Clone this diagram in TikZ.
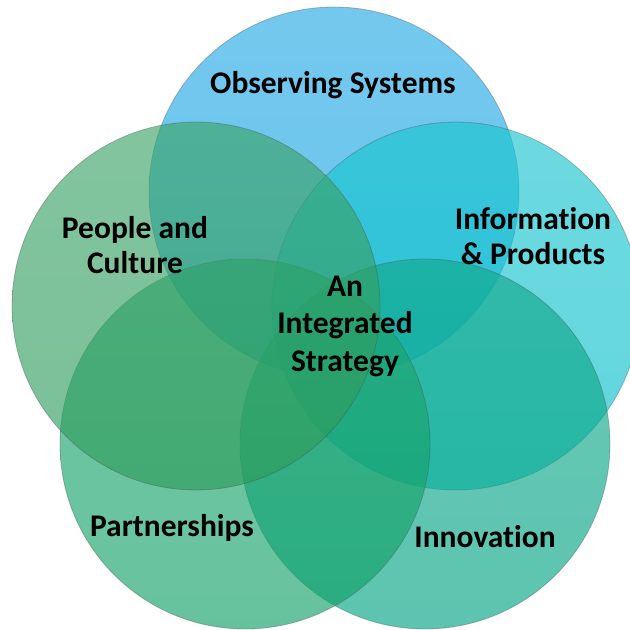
\documentclass[tikz,border=0pt]{standalone}
\usepackage{fontspec}
\setmainfont{Carlito}[Ligatures=NoCommon]

\definecolor{obsblue}{RGB}{21,163,227}
\definecolor{infocyan}{RGB}{8,192,202}
\definecolor{innovteal}{RGB}{0,163,131}
\definecolor{partgreen}{RGB}{16,160,102}
\definecolor{peoplegreen}{RGB}{45,156,92}

\tikzset{
  ring/.style={fill opacity=0.64, draw=black!70, draw opacity=0.35, line width=0.8pt},
  caption/.style={font=\fontsize{31.5}{35.5}\selectfont\bfseries, align=center, text=black}
}

\begin{document}
\begin{tikzpicture}[x=1pt, y=-1pt]
            \useasboundingbox (0, 0) rectangle (630, 630);

            \coordinate (B) at (334, 192);
            \coordinate (C) at (456, 306);
            \coordinate (I) at (425, 444);
            \coordinate (P) at (245, 444);
            \coordinate (L) at (196, 306);

            \shade[ring, top color=obsblue!93, bottom color=obsblue] (B) circle[radius=185];
            \shade[ring, top color=infocyan!93, bottom color=infocyan] (C) circle[radius=184];
            \shade[ring, top color=innovteal!93, bottom color=innovteal] (I) circle[radius=185];
            \shade[ring, top color=partgreen!93, bottom color=partgreen] (P) circle[radius=185];
            \shade[ring, top color=peoplegreen!93, bottom color=peoplegreen] (L) circle[radius=184];

            \node[caption] (obs) at (333, 85) {Observing Systems};
            \node[caption] (info) at (533, 236) {Information\\\& Products};
            \node[caption] (people) at (135, 245) {People and\\Culture};
            \node[caption] (part) at (172, 528) {Partnerships};
            \node[caption] (innov) at (485, 537) {Innovation};
            \node[caption, font=\fontsize{31.5}{37.5}\selectfont\bfseries] (core) at (345, 326) {An\\Integrated\\Strategy};
        \end{tikzpicture}
\end{document}
